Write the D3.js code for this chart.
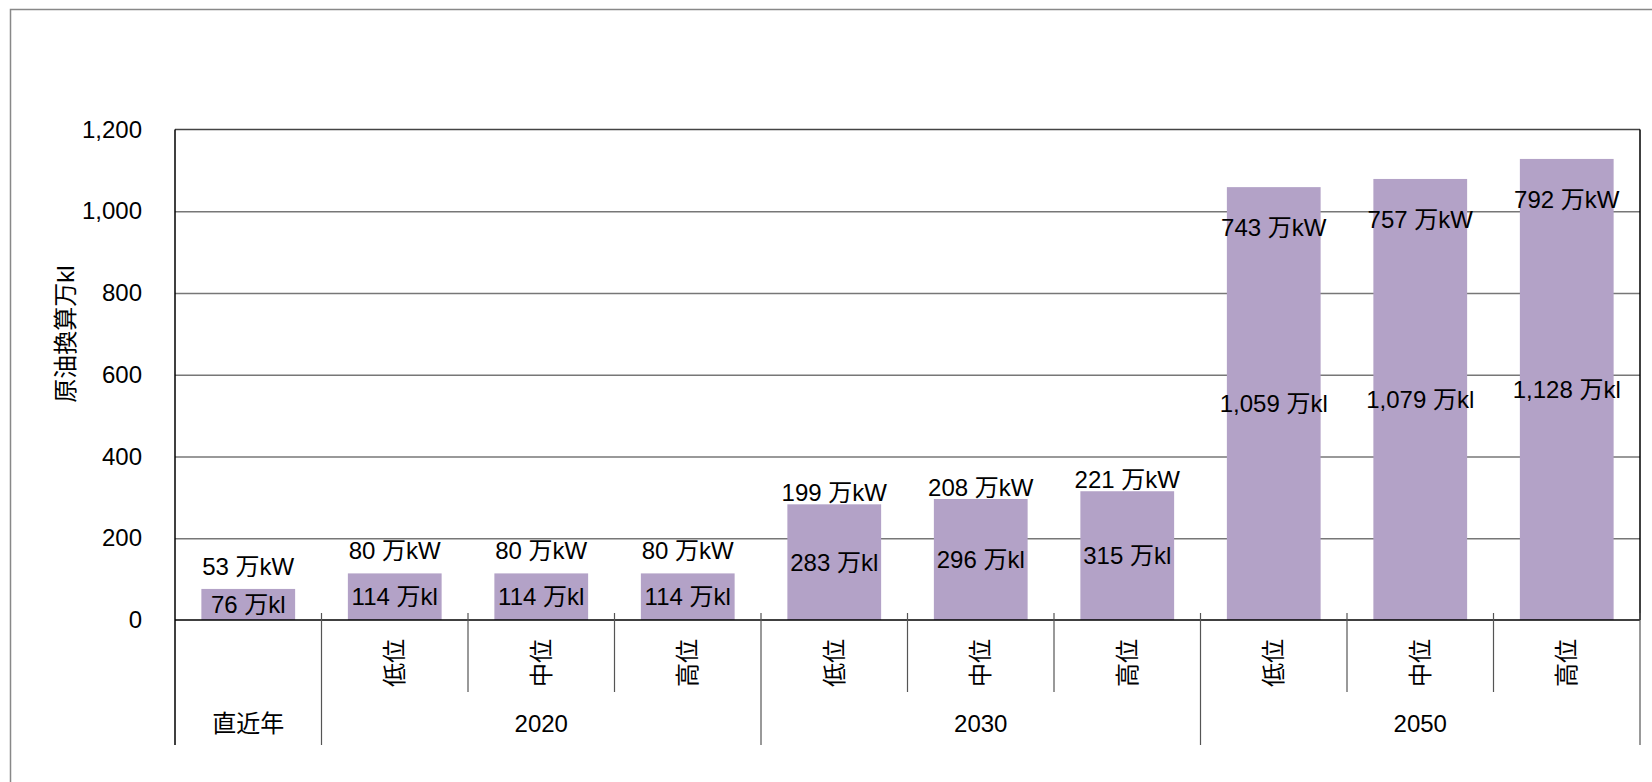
<!DOCTYPE html>
<html>
<head>
<meta charset="utf-8">
<script src="https://cdn.jsdelivr.net/npm/d3@7"></script>
<style>
  body { margin: 0; background: #fff; }
  svg text { font-family: "Liberation Sans", "Noto Sans CJK JP", sans-serif; fill: #000; }
</style>
</head>
<body>
<div id="chart"></div>
<script>
// 原油換算 (万kl) と 設備容量 (万kW)
const groups = ["直近年", "2020", "2030", "2050"];
const groupOf = [0, 1, 1, 1, 2, 2, 2, 3, 3, 3];
const cases = ["", "低位", "中位", "高位", "低位", "中位", "高位", "低位", "中位", "高位"];
const klValues = [76, 114, 114, 114, 283, 296, 315, 1059, 1079, 1128];
const kwValues = [53, 80, 80, 80, 199, 208, 221, 743, 757, 792];
const yTicks = [0, 200, 400, 600, 800, 1000, 1200];

const W = 1652, H = 782;
const margin = { top: 129.5, right: 12, bottom: 162, left: 175 };
const width = W - margin.left - margin.right,
  height = H - margin.top - margin.bottom;
const fs = "24px";

const svg = d3.select("#chart").append("svg")
  .attr("width", W)
  .attr("height", H);

// outer frame (runs off the page on the right and bottom)
svg.append("rect")
  .attr("x", 10.5).attr("y", 9.5)
  .attr("width", W + 20).attr("height", H + 20)
  .attr("fill", "none")
  .attr("stroke", "#888")
  .attr("stroke-width", 1.5);

const g = svg.append("g")
  .attr("transform", `translate(${margin.left},${margin.top})`);

const idx = d3.range(klValues.length);
const x = d3.scaleBand()
  .domain(idx)
  .range([0, width])
  .paddingInner(0.36)
  .paddingOuter(0.18);

const y = d3.scaleLinear()
  .domain([0, 1200])
  .range([height, 0]);

// gridlines
g.append("g")
  .call(d3.axisLeft(y).tickValues(yTicks.slice(1, -1)).tickSize(-width).tickFormat(""))
  .call(s => s.select(".domain").remove())
  .call(s => s.selectAll("line").attr("stroke", "#777").attr("stroke-width", 1.3));

// plot frame
g.append("line").attr("x1", 0).attr("x2", width).attr("y1", 0).attr("y2", 0)
  .attr("stroke", "#444").attr("stroke-width", 1.5);
g.append("line").attr("x1", width).attr("x2", width).attr("y1", 0).attr("y2", height)
  .attr("stroke", "#000").attr("stroke-width", 1.5);

// y axis
g.append("g")
  .call(d3.axisLeft(y).tickValues(yTicks).tickSize(0).tickPadding(33).tickFormat(d3.format(",")))
  .call(s => s.select(".domain").remove())
  .call(s => s.selectAll("text").style("font-size", fs).style("font-family", null));

g.append("line").attr("x1", 0).attr("x2", 0).attr("y1", 0).attr("y2", height + 125)
  .attr("stroke", "#000").attr("stroke-width", 1.5);

// bars
g.selectAll(".bar")
  .data(idx)
  .join("rect")
  .attr("class", "bar")
  .attr("x", i => x(i))
  .attr("y", i => y(klValues[i]))
  .attr("width", x.bandwidth())
  .attr("height", i => height - y(klValues[i]))
  .attr("fill", "#b3a2c7");

// 万kl labels, centred in bar
g.selectAll(".kl")
  .data(idx)
  .join("text")
  .attr("class", "kl")
  .attr("x", i => x(i) + x.bandwidth() / 2)
  .attr("y", i => (y(klValues[i]) + height) / 2)
  .attr("dy", "0.36em")
  .attr("text-anchor", "middle")
  .style("font-size", fs)
  .text(i => `${d3.format(",")(klValues[i])} 万kl`);

// 万kW labels: above short bars, inside near top for tall ones
function kwY(i) {
  const top = y(klValues[i]);
  if (klValues[i] > 600) return top + 40;
  if (height - top < 60) return top - 23;
  return top - 12;
}
g.selectAll(".kw")
  .data(idx)
  .join("text")
  .attr("class", "kw")
  .attr("x", i => x(i) + x.bandwidth() / 2)
  .attr("y", kwY)
  .attr("dy", "0.36em")
  .attr("text-anchor", "middle")
  .style("font-size", fs)
  .text(i => `${d3.format(",")(kwValues[i])} 万kW`);

// x axis line
g.append("line").attr("x1", 0).attr("x2", width).attr("y1", height).attr("y2", height)
  .attr("stroke", "#000").attr("stroke-width", 1.5);

// category separators
const step = x.step();
const bounds = d3.range(1, klValues.length + 1);
g.selectAll(".sep")
  .data(bounds)
  .join("line")
  .attr("class", "sep")
  .attr("x1", k => k * step).attr("x2", k => k * step)
  .attr("y1", height - 7)
  .attr("y2", k => (k === klValues.length || groupOf[k] !== groupOf[k - 1]) ? height + 125 : height + 72)
  .attr("stroke", "#555")
  .attr("stroke-width", 1.2);

// case labels (rotated)
g.selectAll(".case")
  .data(idx.filter(i => cases[i]))
  .join("text")
  .attr("class", "case")
  .attr("transform", i => `translate(${x(i) + x.bandwidth() / 2},${height + 43}) rotate(-90)`)
  .attr("dy", "0.36em")
  .attr("text-anchor", "middle")
  .style("font-size", fs)
  .text(i => cases[i]);

// group labels
g.selectAll(".grp")
  .data(groups)
  .join("text")
  .attr("class", "grp")
  .attr("x", (d, gi) => {
    const members = idx.filter(i => groupOf[i] === gi);
    return (d3.min(members) + d3.max(members) + 1) / 2 * step;
  })
  .attr("y", height + 103)
  .attr("dy", "0.36em")
  .attr("text-anchor", "middle")
  .style("font-size", fs)
  .text(d => d);

// y axis title
svg.append("text")
  .attr("transform", "translate(65,334) rotate(-90)")
  .attr("dy", "0.36em")
  .attr("text-anchor", "middle")
  .style("font-size", fs)
  .text("原油換算万kl");
</script>
</body>
</html>
